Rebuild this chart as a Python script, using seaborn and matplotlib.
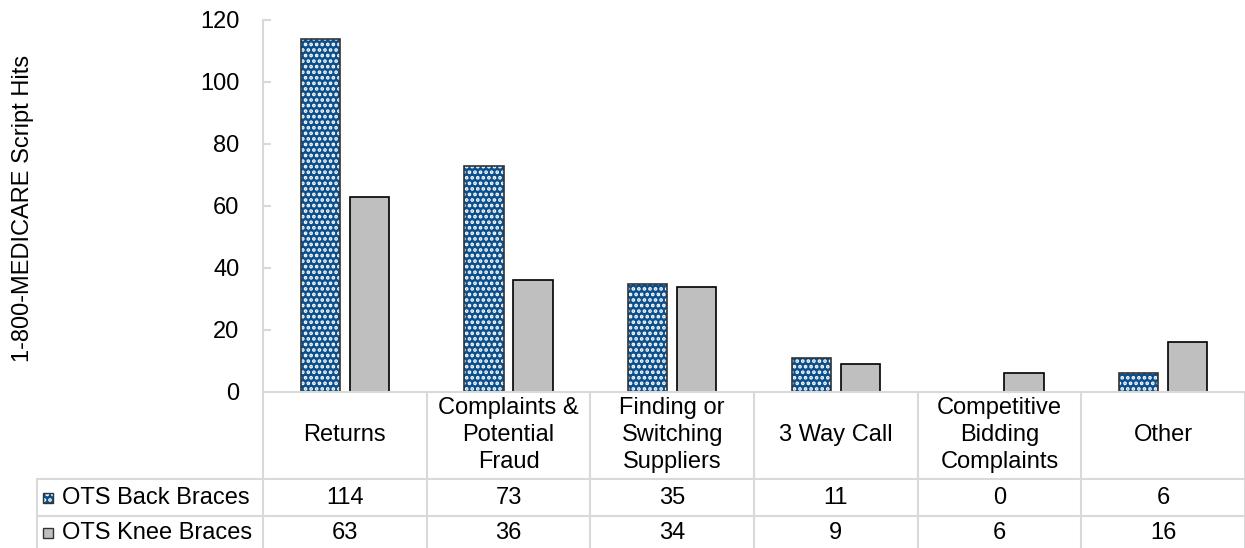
import pandas as pd
import seaborn as sns
import matplotlib.pyplot as plt
from matplotlib.patches import Rectangle
from matplotlib.transforms import blended_transform_factory

# datele graficului
categories = ['Returns', 'Complaints &\nPotential\nFraud', 'Finding or\nSwitching\nSuppliers',
              '3 Way Call', 'Competitive\nBidding\nComplaints', 'Other']
series_names = ['OTS Back Braces', 'OTS Knee Braces']
back_braces = [114, 73, 35, 11, 0, 6]
knee_braces = [63, 36, 34, 9, 6, 16]
y_ticks = [0, 20, 40, 60, 80, 100, 120]

BLUE = '#0B4F8C'
GRAY = '#BFBFBF'
LINE = '#D9D9D9'
W, H = 1245, 548
FS = 17

df = pd.DataFrame({
    'Category': categories * 2,
    'Series': [series_names[0]] * len(categories) + [series_names[1]] * len(categories),
    'Hits': back_braces + knee_braces,
})

sns.set_style('white')
plt.rcParams['font.family'] = ['Liberation Sans', 'DejaVu Sans']
plt.rcParams['text.color'] = 'black'
plt.rcParams['hatch.linewidth'] = 1.8

fig = plt.figure(figsize=(W / 100, H / 100), dpi=100)
ax = fig.add_axes([263 / W, 1 - 392 / H, 1 - 263 / W, 372 / H])

sns.barplot(data=df, x='Category', y='Hits', hue='Series', hue_order=series_names,
            palette=[BLUE, GRAY], width=0.6, gap=0.2, edgecolor='black',
            linewidth=1.2, legend=False, ax=ax, saturation=1)


def hatch_white(patch):
    # hasura alba pe barele albastre, contur inchis
    patch.set_hatch('...')
    patch.set_edgecolor('#333333')
    if hasattr(patch, 'set_hatchcolor'):
        patch.set_hatchcolor('white')
    else:
        patch._hatch_color = (1, 1, 1, 1)


for bar in ax.containers[0]:
    hatch_white(bar)

ax.set_ylim(0, 120)
ax.set_xlim(-0.5, len(categories) - 0.5)
ax.set_yticks(y_ticks)
ax.tick_params(axis='y', left=True, labelsize=FS, labelcolor='black', direction='in',
               length=6, width=1.5, color=LINE, pad=17)
ax.set_xticks([])
ax.set_xlabel('')
ax.set_ylabel('')
for side in ['top', 'right']:
    ax.spines[side].set_visible(False)
for side in ['left', 'bottom']:
    ax.spines[side].set_color(LINE)
    ax.spines[side].set_linewidth(1.5)

fig.text(23 / W, 1 - 208 / H, '1-800-MEDICARE Script Hits', rotation=90,
         ha='center', va='center', fontsize=FS)

# tabelul de sub grafic
tr = blended_transform_factory(ax.transData, fig.transFigure)
fy = lambda py: 1 - py / H
for i, cat in enumerate(categories):
    ax.text(i, fy(435), cat, transform=tr, ha='center', va='center', fontsize=FS,
            linespacing=1.28, clip_on=False)
    ax.text(i, fy(498), str(back_braces[i]), transform=tr, ha='center', va='center',
            fontsize=FS, clip_on=False)
    ax.text(i, fy(533), str(knee_braces[i]), transform=tr, ha='center', va='center',
            fontsize=FS, clip_on=False)

for i in range(0, len(categories) + 1):
    ax.plot([i - 0.5, i - 0.5], [fy(392), fy(548)], transform=tr, color=LINE,
            lw=1.5, clip_on=False)

for py in [479, 516]:
    fig.add_artist(plt.Line2D([37 / W, 1], [fy(py), fy(py)], color=LINE, lw=1.5))
fig.add_artist(plt.Line2D([37 / W, 37 / W], [fy(479), fy(548)], color=LINE, lw=1.5))

# legenda in tabel
keys = [(498, BLUE, True), (533, GRAY, False)]
for (py, col, hatched), name in zip(keys, series_names):
    key = Rectangle((43 / W, fy(py + 5)), 10 / W, 10 / H, transform=fig.transFigure,
                    facecolor=col, edgecolor='#333333', lw=1)
    if hatched:
        hatch_white(key)
    fig.add_artist(key)
    fig.text(62 / W, fy(py), name, ha='left', va='center', fontsize=FS)

fig.savefig('out.png', dpi=100)
